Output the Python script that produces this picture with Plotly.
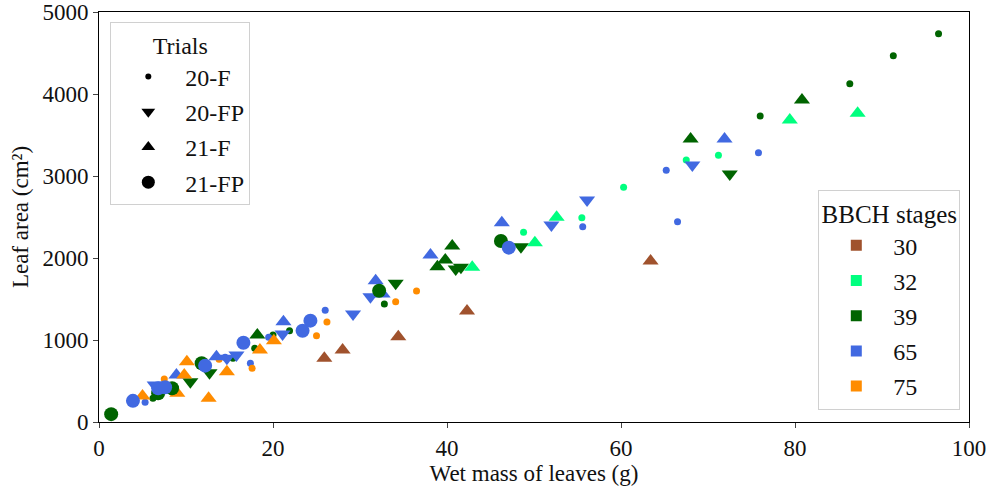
import plotly.graph_objects as go

# ---- data ----
stages = ["30", "32", "39", "65", "75"]
stage_colors = {"30": "#A0522D", "32": "#00FF7F", "39": "#006400", "65": "#4169E1", "75": "#FF8C00"}
trials = ["20-F", "20-FP", "21-F", "21-FP"]

# 20-F (small dots)
f20_x = [96.5, 91.3, 86.3, 76.0, 32.8, 21.9, 20.0, 17.9, 8.4, 6.2, 15.4,
         71.2, 67.5, 60.3, 55.5, 48.8,
         75.8, 65.2, 66.5, 55.6, 26.0, 19.5, 17.4, 5.3, 14.5,
         36.5, 34.1, 26.2, 25.0, 17.6, 13.8, 7.5]
f20_y = [4735, 4467, 4126, 3732, 1439, 1113, 1061, 899, 370, 289, 777,
         3252, 3195, 2862, 2492, 2313,
         3285, 3069, 2443, 2382, 1362, 1033, 716, 240, 790,
         1598, 1467, 1220, 1052, 655, 765, 524]
f20_stage = ["39"] * 11 + ["32"] * 5 + ["65"] * 9 + ["75"] * 7

# 20-FP (triangle down)
fp20_x = [72.5, 48.5, 41.0, 41.6, 34.1, 12.7, 10.5,
          68.2, 56.1, 52.0, 31.2, 29.2, 21.1, 15.8, 14.7, 6.4]
fp20_y = [3024, 2138, 1866, 1886, 1691, 601, 491,
          3134, 2707, 2402, 1528, 1317, 1073, 817, 777, 451]
fp20_stage = ["39"] * 7 + ["65"] * 9

# 21-F (triangle up)
f21_x = [63.4, 42.3, 34.4, 28.0, 25.9,
         79.4, 87.2, 52.6, 50.1, 42.9,
         80.8, 68.0, 40.6, 39.8, 38.9, 18.2,
         71.9, 46.3, 38.1, 31.8, 32.6, 21.2, 13.5, 8.9,
         20.1, 18.5, 14.7, 12.6, 10.1, 9.8, 9.0, 5.0]
f21_y = [1963, 1354, 1040, 878, 776,
         3683, 3765, 2496, 2187, 1886,
         3927, 3451, 2146, 1976, 1894, 1061,
         3451, 2431, 2037, 1723, 1560, 1223, 797, 573,
         991, 878, 614, 289, 735, 573, 350, 317]
f21_stage = ["30"] * 5 + ["32"] * 5 + ["39"] * 6 + ["65"] * 8 + ["75"] * 8

# 21-FP (big circles)
fp21_x = [46.2, 32.2, 11.8, 6.8, 8.4, 1.4,
          47.1, 24.3, 23.4, 16.6, 12.2, 3.9, 6.8, 7.6]
fp21_y = [2207, 1601, 716, 350, 411, 96,
          2126, 1236, 1113, 967, 687, 258, 411, 423]
fp21_stage = ["39"] * 6 + ["65"] * 8

trial_data = {
    "20-F": (f20_x, f20_y, f20_stage),
    "20-FP": (fp20_x, fp20_y, fp20_stage),
    "21-F": (f21_x, f21_y, f21_stage),
    "21-FP": (fp21_x, fp21_y, fp21_stage),
}
trial_symbol = {"20-F": "circle", "20-FP": "triangle-down", "21-F": "triangle-up", "21-FP": "circle"}
trial_size = {"20-F": 7, "20-FP": 14, "21-F": 14, "21-FP": 14}
legend_size = {"20-F": 6, "20-FP": 12, "21-F": 12, "21-FP": 13}

x_ticks = [0, 20, 40, 60, 80, 100]
y_ticks = [0, 1000, 2000, 3000, 4000, 5000]

fig = go.Figure()

for t in trials:
    xs, ys, sts = trial_data[t]
    for s in stages:
        px = [x for x, st in zip(xs, sts) if st == s]
        py = [y for y, st in zip(ys, sts) if st == s]
        if not px:
            continue
        fig.add_trace(go.Scatter(
            x=px, y=py, mode="markers", showlegend=False,
            marker=dict(symbol=trial_symbol[t], size=trial_size[t],
                        color=stage_colors[s], line=dict(width=0)),
            hoverinfo="x+y",
        ))

# legend: trials
for t in trials:
    fig.add_trace(go.Scatter(
        x=[None], y=[None], mode="markers", name=t, legend="legend", legendgroup="t" + t,
        marker=dict(symbol=trial_symbol[t], size=legend_size[t], color="black"),
    ))
# legend: stages
for s in stages:
    fig.add_trace(go.Scatter(
        x=[None], y=[None], mode="markers", name=s, legend="legend2", legendgroup="s" + s,
        marker=dict(symbol="square", size=11, color=stage_colors[s]),
    ))

font_family = "Liberation Serif, Times New Roman, serif"
legend_common = dict(
    bgcolor="white", bordercolor="#d0d0d0", borderwidth=1,
    font=dict(family=font_family, size=24, color="#111"),
    itemsizing="trace", tracegroupgap=1, itemwidth=64,
)

fig.update_layout(
    width=996, height=488,
    margin=dict(l=99, r=27, t=12, b=66),
    paper_bgcolor="white", plot_bgcolor="white",
    font=dict(family=font_family, size=23, color="#111"),
    legend=dict(**legend_common, x=0.013, y=0.975, xanchor="left", yanchor="top",
                title=dict(text="Trials", side="top center", font=dict(size=24))),
    legend2=dict(**legend_common, x=0.99, y=0.03, xanchor="right", yanchor="bottom",
                 title=dict(text="BBCH stages", side="top center", font=dict(size=25))),
    xaxis=dict(range=[0, 100], tickvals=x_ticks, ticks="outside", ticklen=5,
               showgrid=False, zeroline=False, showline=True, linecolor="black",
               linewidth=1, mirror=True, tickfont=dict(size=23), automargin=False,
               title=dict(text="Wet mass of leaves (g)", font=dict(size=23), standoff=0)),
    yaxis=dict(range=[0, 5000], tickvals=y_ticks, ticks="outside", ticklen=5,
               showgrid=False, zeroline=False, showline=True, linecolor="black",
               linewidth=1, mirror=True, tickfont=dict(size=23), automargin=False,
               title=dict(text="Leaf area (cm²)", font=dict(size=23), standoff=7)),
)

fig.write_html("out.html", config={"displayModeBar": False},
               post_script="document.body.style.margin='0';document.body.style.padding='0';")
